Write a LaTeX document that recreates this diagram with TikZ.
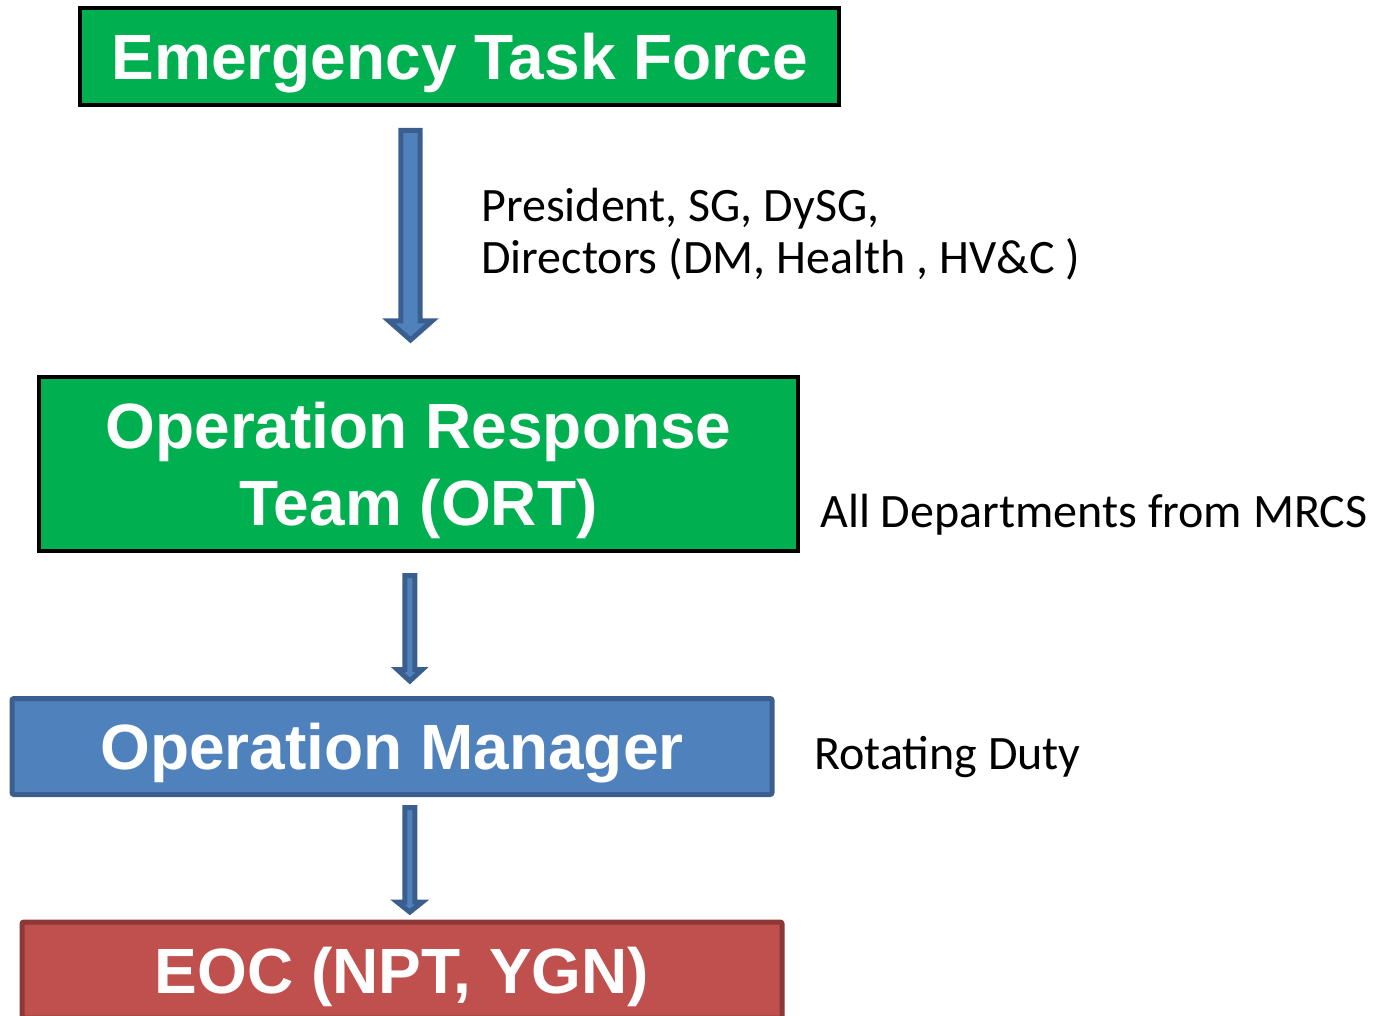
\documentclass[tikz,border=0pt]{standalone}
\usepackage{fontspec}
\setmainfont{Liberation Sans}
\newfontfamily\sidefont{Carlito}
\usetikzlibrary{calc}
\definecolor{boxgreen}{HTML}{00B050}
\definecolor{boxblue}{HTML}{4F81BD}
\definecolor{blueedge}{HTML}{3A5F8F}
\definecolor{boxred}{HTML}{C0504D}
\definecolor{rededge}{HTML}{8C3836}
\tikzset{
  x=0.75pt, y=-0.75pt,
  boxtext/.style={text=white, font=\fontsize{48}{57.6}\selectfont\bfseries, align=center, inner sep=0pt, text depth=0pt},
  greenbox/.style={boxtext, draw=black, fill=boxgreen, line width=3pt},
  bluebox/.style={boxtext, draw=blueedge, fill=boxblue, line width=3.75pt, rounded corners=1.5pt},
  redbox/.style={boxtext, draw=rededge, fill=boxred, line width=3.75pt, rounded corners=1.5pt},
  sidetext/.style={font=\sidefont\fontsize{36}{39.5}\selectfont, anchor=base west, inner sep=0pt, align=left},
  barrow/.style={draw=blueedge, fill=boxblue, line width=3.75pt, line join=miter},
}
\newcommand\blockarr[5]{%
  \draw[barrow] ($(#1)+(-#3,0)$) -- ($(#2)+(-#3,-#5)$) -- ($(#2)+(-#4,-#5)$) -- (#2)
    -- ($(#2)+(#4,-#5)$) -- ($(#2)+(#3,-#5)$) -- ($(#1)+(#3,0)$) -- cycle;}
\begin{document}
\begin{tikzpicture}
\useasboundingbox (0,0) rectangle (1375,1016);
\node[greenbox, minimum width=569.25pt, minimum height=72.5pt] (etf) at (459.7,56.3) {Emergency Task Force};
\node[greenbox, minimum width=569.25pt, minimum height=130.9pt] (ort) at (418.5,464) {Operation Response\\Team (ORT)};
\node[bluebox, minimum width=570pt, minimum height=72pt] (om) at (392,746.5) {Operation Manager};
\node[redbox, minimum width=570pt, minimum height=72pt] (eoc) at (402,970) {EOC (NPT, YGN)};
\node[sidetext] (members) at (481,274) {President, SG, DySG,\\Directors (DM, Health , HV\&C )};
\node[sidetext] (depts) at (820,527) {All Departments from MRCS};
\node[sidetext] (duty) at (814,769) {Rotating Duty};
\coordinate (a1s) at (410.5,130.5);
\coordinate (a1e) at (410.5,340);
\coordinate (a2s) at (409.8,575.5);
\coordinate (a2e) at (409.8,681);
\coordinate (a3s) at (409.8,807.5);
\coordinate (a3e) at (409.8,912);
\blockarr{a1s}{a1e}{9.7}{21.5}{19}
\blockarr{a2s}{a2e}{5}{12.5}{11.5}
\blockarr{a3s}{a3e}{5}{12.5}{10}
\end{tikzpicture}
\end{document}
